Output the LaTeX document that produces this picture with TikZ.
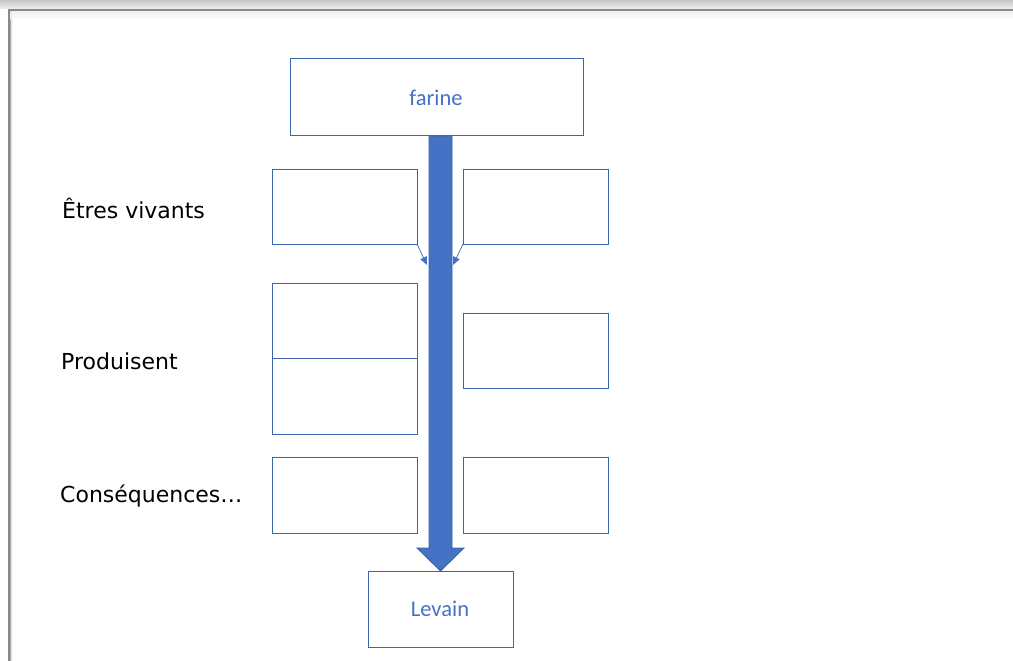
\documentclass[tikz,border=0pt]{standalone}
\usepackage{fontspec}
\setmainfont{Carlito}
\newfontfamily\labfont{DejaVu Sans}
\usetikzlibrary{arrows.meta}
\definecolor{boxline}{HTML}{3B64AD}
\definecolor{accent}{HTML}{4472C4}
\definecolor{accentdark}{HTML}{3A63A8}
\definecolor{framegray}{HTML}{8A8A8A}
\tikzset{
  cell/.style={draw=boxline, line width=1pt, fill=white},
  lab/.style={anchor=west, font=\labfont\fontsize{22}{24}\selectfont, text=black, inner sep=0pt},
  boxtext/.style={font=\fontsize{22.5}{25}\selectfont, text=accent, inner sep=0pt},
  thinarrow/.style={draw=accent, line width=0.8pt, -{Triangle[length=8pt,width=7pt]}},
}
\begin{document}
\begin{tikzpicture}[x=1pt,y=-1pt]
\useasboundingbox (0,0) rectangle (1013,661);
% window frame
\fill[white] (0,0) rectangle (1013,661);
\shade[top color=gray!45, bottom color=gray!12] (0,0) rectangle (1013,9);
\fill[framegray] (8,9) rectangle (1013,11.5);
\fill[framegray] (8,9) rectangle (10.5,661);
\shade[top color=gray!12, bottom color=white] (10.5,11.5) rectangle (1013,20);
\shade[left color=gray!20, right color=white] (10.5,11.5) rectangle (13,661);

% boxes
\path[cell] (290,59) rectangle (583,135);
\node[boxtext] (farine) at (436,98) {farine};

\path[cell] (272,169) rectangle (417,244);
\coordinate (l1) at (417,244);
\path[cell] (463,169) rectangle (608,244);
\coordinate (r1) at (463,244);

\path[cell] (272,283) rectangle (417,358);
\path[cell] (272,358) rectangle (417,434);
\path[cell] (463,313) rectangle (608,388);

\path[cell] (272,457) rectangle (417,533);
\path[cell] (463,457) rectangle (608,533);

\path[cell] (368,571) rectangle (513,647);
\node[boxtext] (levain) at (440,609) {Levain};

% big arrow
\filldraw[fill=accent, draw=accentdark, line width=0.8pt]
  (429,136) -- (452,136) -- (452,548) -- (464,548) -- (440.5,571)
  -- (417,548) -- (429,548) -- cycle;

% small arrows
\coordinate (l1e) at (427,265);
\coordinate (r1e) at (453,265);
\draw[thinarrow] (l1) -- (l1e);
\draw[thinarrow] (r1) -- (r1e);

% labels
\node[lab] (etres) at (62,208) {Êtres vivants};
\node[lab] (prod) at (61,361) {Produisent};
\node[lab] (cons) at (60,496) {Conséquences…};
\end{tikzpicture}
\end{document}
